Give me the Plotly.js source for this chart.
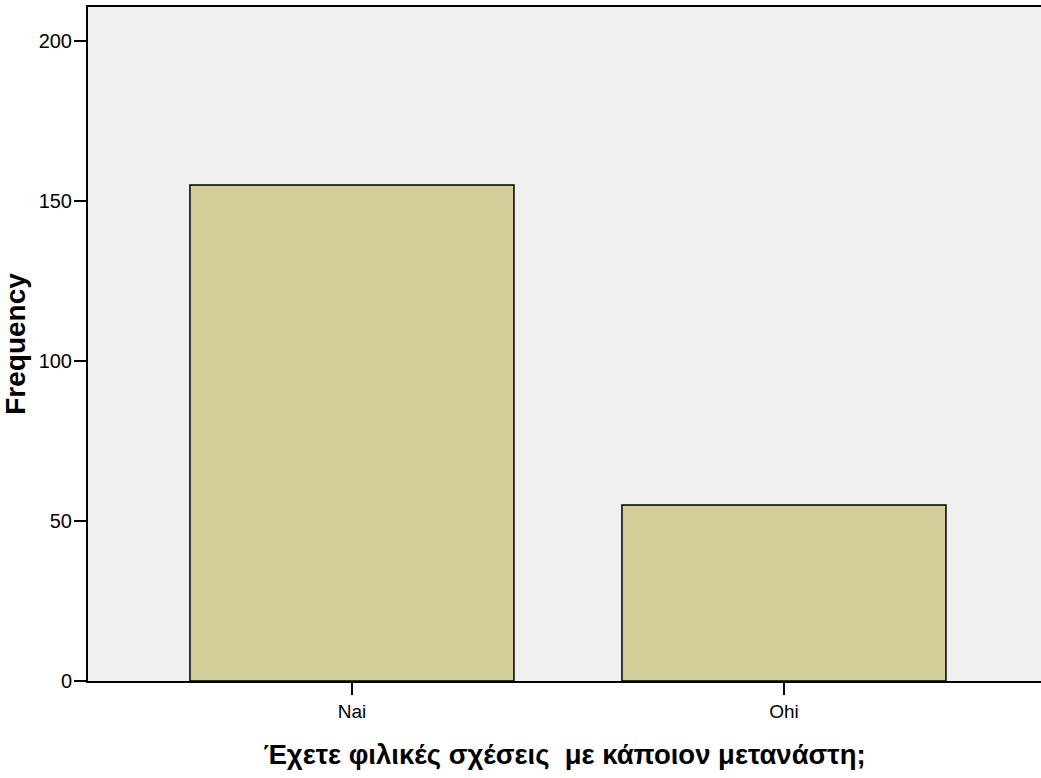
<!DOCTYPE html>
<html>
<head>
<meta charset="utf-8">
<script src="https://cdn.plot.ly/plotly-3.0.1.min.js"></script>
<style>html,body{margin:0;padding:0;background:#fff;}#chart{width:1041px;height:778px;}</style>
</head>
<body>
<div id="chart"></div>
<script>
const categories = ["Nai", "Ohi"];
const frequencies = [155, 55];
const yTickValues = [0, 50, 100, 150, 200];
const xTitle = "Έχετε φιλικές σχέσεις  με κάποιον μετανάστη;";
const yTitle = "Frequency";

const trace = {
  type: "bar",
  x: categories,
  y: frequencies,
  width: 0.75,
  marker: {color: "#d3ce98", line: {color: "#000", width: 1.5}},
  hoverinfo: "x+y"
};

const fam = "'Liberation Sans', Arial, sans-serif";
const layout = {
  width: 1041,
  height: 778,
  margin: {l: 88, r: 0, t: 7, b: 97},
  paper_bgcolor: "#ffffff",
  plot_bgcolor: "#f0f0f0",
  showlegend: false,
  font: {family: fam, color: "#000"},
  xaxis: {
    type: "category",
    range: [-0.611, 1.595],
    showline: true, linecolor: "#000", linewidth: 2, mirror: true,
    ticks: "outside", ticklen: 12, tickwidth: 2, tickcolor: "#000",
    showgrid: false, zeroline: false,
    tickfont: {size: 19, family: fam},
    title: {text: xTitle, standoff: 24, font: {size: 27.5, family: fam, weight: "bold"}}
  },
  yaxis: {
    range: [0, 210.6],
    tickvals: yTickValues,
    showline: true, linecolor: "#000", linewidth: 2,
    ticks: "outside", ticklen: 12, tickwidth: 2, tickcolor: "#000",
    ticklabelstandoff: -2,
    showgrid: false, zeroline: false,
    tickfont: {size: 20, family: fam},
    title: {text: yTitle, standoff: 8, font: {size: 28, family: fam, weight: "bold"}}
  }
};

Plotly.newPlot("chart", [trace], layout, {displayModeBar: false, staticPlot: true});
</script>
</body>
</html>
